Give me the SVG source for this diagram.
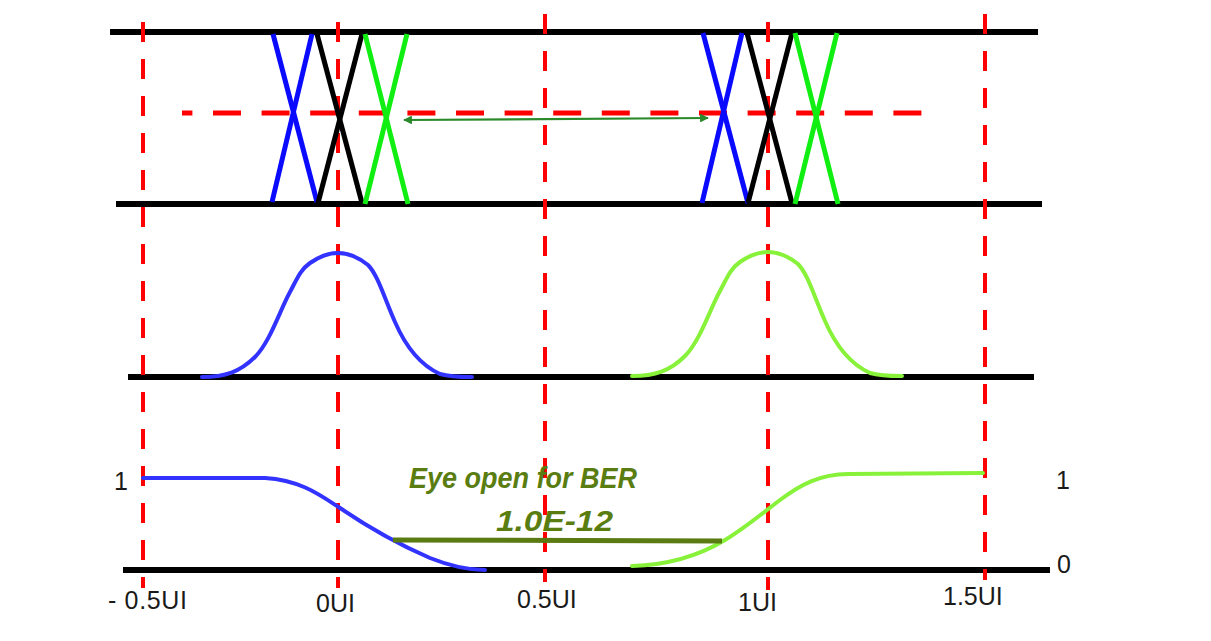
<svg xmlns="http://www.w3.org/2000/svg" width="1211" height="641" viewBox="0 0 1211 641">
  <defs>
    <style>
      .axis { stroke: #000; stroke-width: 6; fill: none; }
      .vdash { stroke: #ff0000; stroke-width: 4; stroke-dasharray: 20 17; fill: none; }
      .hdash { stroke: #ff0000; stroke-width: 5; stroke-dasharray: 28 20.6; stroke-dashoffset: 17.6; fill: none; }
      .xb { stroke: #0a0aff; stroke-width: 5; fill: none; }
      .xk { stroke: #000; stroke-width: 5; fill: none; }
      .xg { stroke: #11ee11; stroke-width: 5; fill: none; }
      .cb { stroke: #3333ff; stroke-width: 4; fill: none; stroke-linecap: round; }
      .cg { stroke: #88f23a; stroke-width: 4; fill: none; stroke-linecap: round; }
      .lbl { font-family: "Liberation Sans", Arial, sans-serif; font-size: 25px; fill: #1a1a1a; }
      .eye { font-family: "Liberation Sans", Arial, sans-serif; font-weight: bold; font-style: italic; fill: #5a7d12; }
    </style>
    <marker id="ah" viewBox="0 0 10 10" refX="9" refY="5" markerWidth="5" markerHeight="4" orient="auto-start-reverse" markerUnits="strokeWidth">
      <path d="M0,0 L10,5 L0,10 z" fill="#2a8a2a"/>
    </marker>
  </defs>
  <rect width="1211" height="641" fill="#ffffff"/>

  <g id="axes">
    <line class="axis" x1="110" y1="32" x2="1038" y2="32"/>
    <line class="axis" x1="116" y1="204" x2="1042" y2="204"/>
    <line class="axis" x1="128" y1="377" x2="1034" y2="377"/>
    <line class="axis" x1="123" y1="570" x2="1050" y2="570"/>
  </g>

  <g id="gridlines">
    <line class="vdash" x1="143" y1="22" x2="143" y2="588"/>
    <line class="vdash" x1="338" y1="22" x2="338" y2="588"/>
    <line class="vdash" x1="545" y1="14" x2="545" y2="582"/>
    <line class="vdash" x1="768" y1="22" x2="768" y2="590"/>
    <line class="vdash" x1="985" y1="14" x2="985" y2="580"/>
    <line class="hdash" x1="182" y1="113" x2="922" y2="113"/>
  </g>

  <g id="transitions-left">
    <line class="xb" x1="273" y1="34" x2="317" y2="202"/>
    <line class="xb" x1="312" y1="34" x2="272" y2="202"/>
    <line class="xk" x1="317" y1="34" x2="362" y2="203"/>
    <line class="xk" x1="362" y1="34" x2="318" y2="203"/>
    <line class="xg" x1="365" y1="34" x2="408" y2="204"/>
    <line class="xg" x1="407" y1="34" x2="365" y2="204"/>
  </g>

  <g id="transitions-right">
    <line class="xb" x1="703" y1="33" x2="748" y2="203"/>
    <line class="xb" x1="742" y1="33" x2="702" y2="203"/>
    <line class="xk" x1="747" y1="33" x2="792" y2="203"/>
    <line class="xk" x1="792" y1="33" x2="748" y2="203"/>
    <line class="xg" x1="795" y1="33" x2="838" y2="204"/>
    <line class="xg" x1="837" y1="33" x2="795" y2="204"/>
  </g>

  <g id="connectors">
    <line x1="404" y1="120" x2="708" y2="118" stroke="#2a8a2a" stroke-width="2.2" marker-start="url(#ah)" marker-end="url(#ah)"/>
  </g>

  <g id="pdf-blue">
    <path class="cb" d="M202,377 C225,377 240,372 255,357 C270,342 280,310 290,292 C297,279 300,270 310,263 C320,256 330,253 338,253 C348,253 358,257 368,265 C378,275 385,300 395,322 C405,345 420,365 440,374 C450,377 460,377 472,377"/>
  </g>
  <g id="pdf-green">
    <path class="cg" transform="translate(430,-1)" d="M202,377 C225,377 240,372 255,357 C270,342 280,310 290,292 C297,279 300,270 310,263 C320,256 330,253 338,253 C348,253 358,257 368,265 C378,275 385,300 395,322 C405,345 420,365 440,374 C450,377 460,377 472,377"/>
  </g>

  <g id="cdf-blue">
    <path class="cb" d="M143,478 L265,478 C300,480 320,495 340,508 C365,525 400,545 430,558 C450,566 470,570 485,570"/>
  </g>
  <g id="cdf-green">
    <path class="cg" d="M632,566 C670,565 700,555 725,540 C745,528 760,515 780,500 C800,485 820,474 848,474 L983,473"/>
  </g>

  <g id="eye-opening">
    <line x1="393" y1="540" x2="722" y2="541" stroke="#5a7a12" stroke-width="5"/>
    <text class="eye" x="409" y="488" font-size="29" textLength="228" lengthAdjust="spacingAndGlyphs">Eye open for BER</text>
    <text class="eye" x="496" y="531" font-size="30" textLength="117" lengthAdjust="spacingAndGlyphs">1.0E-12</text>
  </g>

  <g id="labels">
    <text class="lbl" x="108" y="609" textLength="79" lengthAdjust="spacing">- 0.5UI</text>
    <text class="lbl" x="316" y="612">0UI</text>
    <text class="lbl" x="517" y="608">0.5UI</text>
    <text class="lbl" x="738" y="611">1UI</text>
    <text class="lbl" x="943" y="605">1.5UI</text>
    <text class="lbl" x="114" y="490">1</text>
    <text class="lbl" x="1056" y="489">1</text>
    <text class="lbl" x="1057" y="573">0</text>
  </g>
</svg>
